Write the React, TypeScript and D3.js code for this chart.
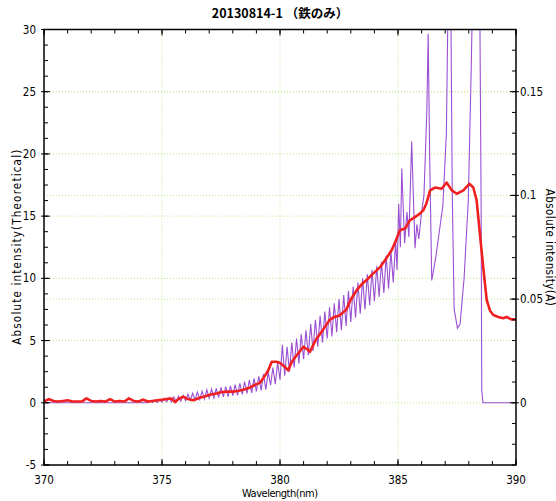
import React from 'react'
import * as d3 from 'd3';

// red line: theoretical intensity (left axis)
const redPoints: [number, number][] = [
  [370.0, 0.1], [370.2, 0.3], [370.4, 0.15], [370.6, 0.1], [370.8, 0.15], [371.0, 0.2],
  [371.2, 0.1], [371.4, 0.1], [371.6, 0.1], [371.8, 0.35], [372.0, 0.15], [372.2, 0.1],
  [372.4, 0.15], [372.6, 0.1], [372.8, 0.3], [373.0, 0.1], [373.2, 0.15], [373.4, 0.1],
  [373.6, 0.35], [373.8, 0.15], [374.0, 0.1], [374.2, 0.25], [374.4, 0.1], [374.6, 0.15],
  [374.8, 0.2], [375.0, 0.25], [375.2, 0.3], [375.4, 0.35], [375.55, 0.05], [375.7, 0.3],
  [375.9, 0.5], [376.1, 0.3], [376.33, 0.2], [376.6, 0.4], [376.8, 0.5], [377.03, 0.64],
  [377.3, 0.75], [377.5, 0.85], [377.74, 0.9], [378.0, 0.9], [378.2, 0.95], [378.45, 1.04],
  [378.7, 1.2], [378.95, 1.45], [379.15, 1.6], [379.3, 2.0], [379.5, 2.6], [379.65, 3.3],
  [379.85, 3.3], [380.0, 3.2], [380.2, 2.9], [380.35, 2.6], [380.5, 3.3], [380.7, 3.8],
  [380.99, 4.5], [381.15, 4.3], [381.27, 4.1], [381.5, 5.0], [381.8, 5.8], [382.1, 6.65],
  [382.3, 6.9], [382.5, 7.0], [382.8, 7.45], [383.0, 8.3], [383.25, 9.05], [383.45, 9.5],
  [383.67, 9.86], [383.9, 10.3], [384.24, 10.9], [384.5, 11.6], [384.73, 12.26], [384.9, 13.0],
  [385.08, 13.86], [385.3, 14.0], [385.5, 14.66], [385.7, 14.9], [385.93, 15.2], [386.07, 15.46],
  [386.2, 16.0], [386.36, 17.07], [386.57, 17.3], [386.85, 17.2], [387.06, 17.7], [387.28, 17.07],
  [387.49, 16.8], [387.77, 17.07], [388.02, 17.6], [388.19, 17.3], [388.33, 16.3], [388.47, 13.6],
  [388.61, 10.9], [388.76, 8.25], [388.9, 7.4], [389.04, 7.05], [389.25, 6.9], [389.46, 6.8],
  [389.6, 6.9], [389.8, 6.7], [390.0, 6.7],
]

// purple line: measured intensity (right axis, A)
const purplePoints: [number, number][] = [
  [370.0, 0], [374.4, 0], [374.5, 0.0008], [374.6, 0.0001], [374.7, 0.0012], [374.8, 0.0002],
  [374.9, 0.0015], [375.0, 0.0003], [375.1, 0.0022], [375.2, 0.0005], [375.3, 0.0025], [375.4, 0.0004],
  [375.5, 0.0028], [375.6, 0.0006], [375.7, 0.0032], [375.8, 0.0008], [375.9, 0.0036], [376.0, 0.001],
  [376.1, 0.0042], [376.2, 0.0012], [376.3, 0.0046], [376.4, 0.0014], [376.5, 0.0052], [376.6, 0.0016],
  [376.7, 0.0056], [376.8, 0.0018], [376.9, 0.0062], [377.0, 0.0022], [377.1, 0.0066], [377.2, 0.0024],
  [377.3, 0.007], [377.4, 0.0026], [377.5, 0.0074], [377.6, 0.0028], [377.7, 0.0078], [377.8, 0.003],
  [377.9, 0.0082], [378.0, 0.0034], [378.1, 0.0088], [378.2, 0.0036], [378.3, 0.0094], [378.4, 0.004],
  [378.5, 0.0102], [378.6, 0.0045], [378.7, 0.011], [378.8, 0.0048], [378.9, 0.0118], [379.0, 0.0055],
  [379.1, 0.0128], [379.2, 0.006], [379.3, 0.0138], [379.4, 0.0065], [379.5, 0.0148], [379.6, 0.0085],
  [379.7, 0.017], [379.8, 0.009], [379.9, 0.0195], [380.0, 0.011], [380.1, 0.028], [380.2, 0.013],
  [380.3, 0.027], [380.4, 0.015], [380.5, 0.029], [380.6, 0.017], [380.7, 0.031], [380.8, 0.019],
  [380.9, 0.033], [381.0, 0.021], [381.1, 0.035], [381.2, 0.023], [381.3, 0.038], [381.4, 0.025],
  [381.5, 0.040], [381.6, 0.027], [381.7, 0.042], [381.8, 0.029], [381.9, 0.044], [382.0, 0.031],
  [382.1, 0.046], [382.2, 0.032], [382.3, 0.048], [382.4, 0.034], [382.5, 0.050], [382.6, 0.035],
  [382.7, 0.052], [382.8, 0.037], [382.9, 0.054], [383.0, 0.039], [383.1, 0.056], [383.2, 0.041],
  [383.3, 0.058], [383.4, 0.043], [383.5, 0.060], [383.6, 0.045], [383.7, 0.062], [383.8, 0.047],
  [383.9, 0.064], [384.0, 0.049], [384.1, 0.066], [384.2, 0.051], [384.3, 0.068], [384.4, 0.053],
  [384.5, 0.071], [384.6, 0.055], [384.7, 0.073], [384.8, 0.058], [384.9, 0.078], [384.96, 0.064],
  [385.03, 0.096], [385.1, 0.075], [385.16, 0.113], [385.28, 0.077], [385.38, 0.092], [385.46, 0.08],
  [385.58, 0.126], [385.72, 0.0745], [385.8, 0.086], [385.88, 0.079], [386.0, 0.092], [386.1, 0.1],
  [386.22, 0.14], [386.28, 0.178], [386.34, 0.12], [386.43, 0.059], [386.6, 0.07], [386.9, 0.095],
  [387.05, 0.13], [387.15, 0.22], [387.22, 0.22], [387.3, 0.1], [387.38, 0.045], [387.52, 0.036],
  [387.63, 0.038], [387.8, 0.06], [387.98, 0.098], [388.1, 0.16], [388.2, 0.22], [388.45, 0.22],
  [388.52, 0.1], [388.55, 0.006], [388.6, 0], [390.0, 0],
]

const xMajor = [370, 375, 380, 385, 390]
const leftMajor = [-5, 0, 5, 10, 15, 20, 25, 30]
const rightMajor = [0, 0.05, 0.1, 0.15]
const rightLabels = ['0', '0.05', '0.1', '0.15']

const title = '20130814-1 （鉄のみ）'
const xTitle = 'Wavelength(nm)'
const leftTitle = 'Absolute intensity(Theoretical)'
const rightTitle = 'Absolute intensity(A)'

const App: React.FC = () => {
  const width = 556
  const height = 501
  const left = 44
  const right = 516
  const top = 29.5
  const bottom = 465

  const x = d3.scaleLinear().domain([370, 390]).range([left, right])
  const yL = d3.scaleLinear().domain([-5, 30]).range([bottom, top])
  const yR = d3.scaleLinear().domain([-0.03, 0.18]).range([bottom, top])

  const xMinor = d3.range(370, 390.001, 1)
  const leftMinor = d3.range(-5, 30.001, 1.25)
  const rightMinor = d3.range(-0.03, 0.1801, 0.01)

  const redLine = d3.line<[number, number]>().x(d => x(d[0])).y(d => yL(d[1]))
  const purpleLine = d3.line<[number, number]>().x(d => x(d[0])).y(d => yR(d[1]))

  const grid = '#bfe58f'
  const font = "'Liberation Sans Narrow', 'DejaVu Sans Condensed', sans-serif"

  return (
    <svg width={width} height={height} style={{ position: 'absolute', left: 0, top: 0, background: '#fff' }}>
      <defs>
        <clipPath id='plot'>
          <rect x={left} y={top} width={right - left} height={bottom - top} />
        </clipPath>
      </defs>
      <rect x={0} y={0} width={width} height={height} fill='#fff' />

      {/* grid */}
      {xMajor.slice(1, -1).map(v => (
        <line key={'gx' + v} x1={x(v)} x2={x(v)} y1={top} y2={bottom} stroke={grid} strokeDasharray='1,2' />
      ))}
      {leftMajor.slice(1, -1).map(v => (
        <line key={'gl' + v} x1={left} x2={right} y1={yL(v)} y2={yL(v)} stroke={grid} strokeDasharray='1,2' />
      ))}
      {rightMajor.slice(1).map(v => (
        <line key={'gr' + v} x1={left} x2={right} y1={yR(v)} y2={yR(v)} stroke={grid} strokeDasharray='1,2' />
      ))}

      <g clipPath='url(#plot)'>
        <path d={purpleLine(purplePoints) || ''} fill='none' stroke='#9b4fd3' strokeWidth={1.1} />
        <path d={redLine(redPoints) || ''} fill='none' stroke='#f02020' strokeWidth={2.6} strokeLinejoin='round' />
      </g>

      {/* ticks */}
      {xMinor.map(v => (
        <g key={'tx' + v}>
          <line x1={x(v)} x2={x(v)} y1={bottom} y2={bottom - 4} stroke='#000' />
          <line x1={x(v)} x2={x(v)} y1={top} y2={top + 4} stroke='#000' />
        </g>
      ))}
      {xMajor.map(v => (
        <g key={'mx' + v}>
          <line x1={x(v)} x2={x(v)} y1={bottom} y2={bottom - 6} stroke='#000' />
          <line x1={x(v)} x2={x(v)} y1={top} y2={top + 6} stroke='#000' />
          <text x={x(v)} y={bottom + 19} textAnchor='middle' fontSize={11.5} fontFamily={font}>{v}</text>
        </g>
      ))}
      {leftMinor.map(v => (
        <line key={'tl' + v} x1={left} x2={left + 4} y1={yL(v)} y2={yL(v)} stroke='#000' />
      ))}
      {leftMajor.map(v => (
        <g key={'ml' + v}>
          <line x1={left - 3} x2={left + 6} y1={yL(v)} y2={yL(v)} stroke='#000' />
          <text x={left - 8} y={yL(v)} dy='0.35em' textAnchor='end' fontSize={11.5} fontFamily={font}>{v}</text>
        </g>
      ))}
      {rightMinor.map(v => (
        <line key={'tr' + v} x1={right} x2={right - 4} y1={yR(v)} y2={yR(v)} stroke='#000' />
      ))}
      {rightMajor.map((v, i) => (
        <g key={'mr' + v}>
          <line x1={right + 3} x2={right - 6} y1={yR(v)} y2={yR(v)} stroke='#000' />
          <text x={right + 4} y={yR(v)} dy='0.35em' textAnchor='start' fontSize={11.5} fontFamily={font}>{rightLabels[i]}</text>
        </g>
      ))}

      <rect x={left} y={top} width={right - left} height={bottom - top} fill='none' stroke='#000' strokeWidth={1.5} />

      {/* titles */}
      <text x={(left + right) / 2} y={18} textAnchor='middle' fontSize={12.5} fontWeight='bold' fontFamily="'Noto Sans CJK JP', sans-serif">{title}</text>
      <text x={(left + right) / 2} y={497} textAnchor='middle' fontSize={11} fontFamily={font} textLength={76}>{xTitle}</text>
      <text transform={`translate(21, ${(top + bottom) / 2}) rotate(-90)`} textAnchor='middle' fontSize={11.5} fontFamily={font} textLength={195}>{leftTitle}</text>
      <text transform={`translate(546, ${(top + bottom) / 2}) rotate(90)`} textAnchor='middle' fontSize={11.5} fontFamily={font} textLength={117}>{rightTitle}</text>
    </svg>
  )
}

export default App
